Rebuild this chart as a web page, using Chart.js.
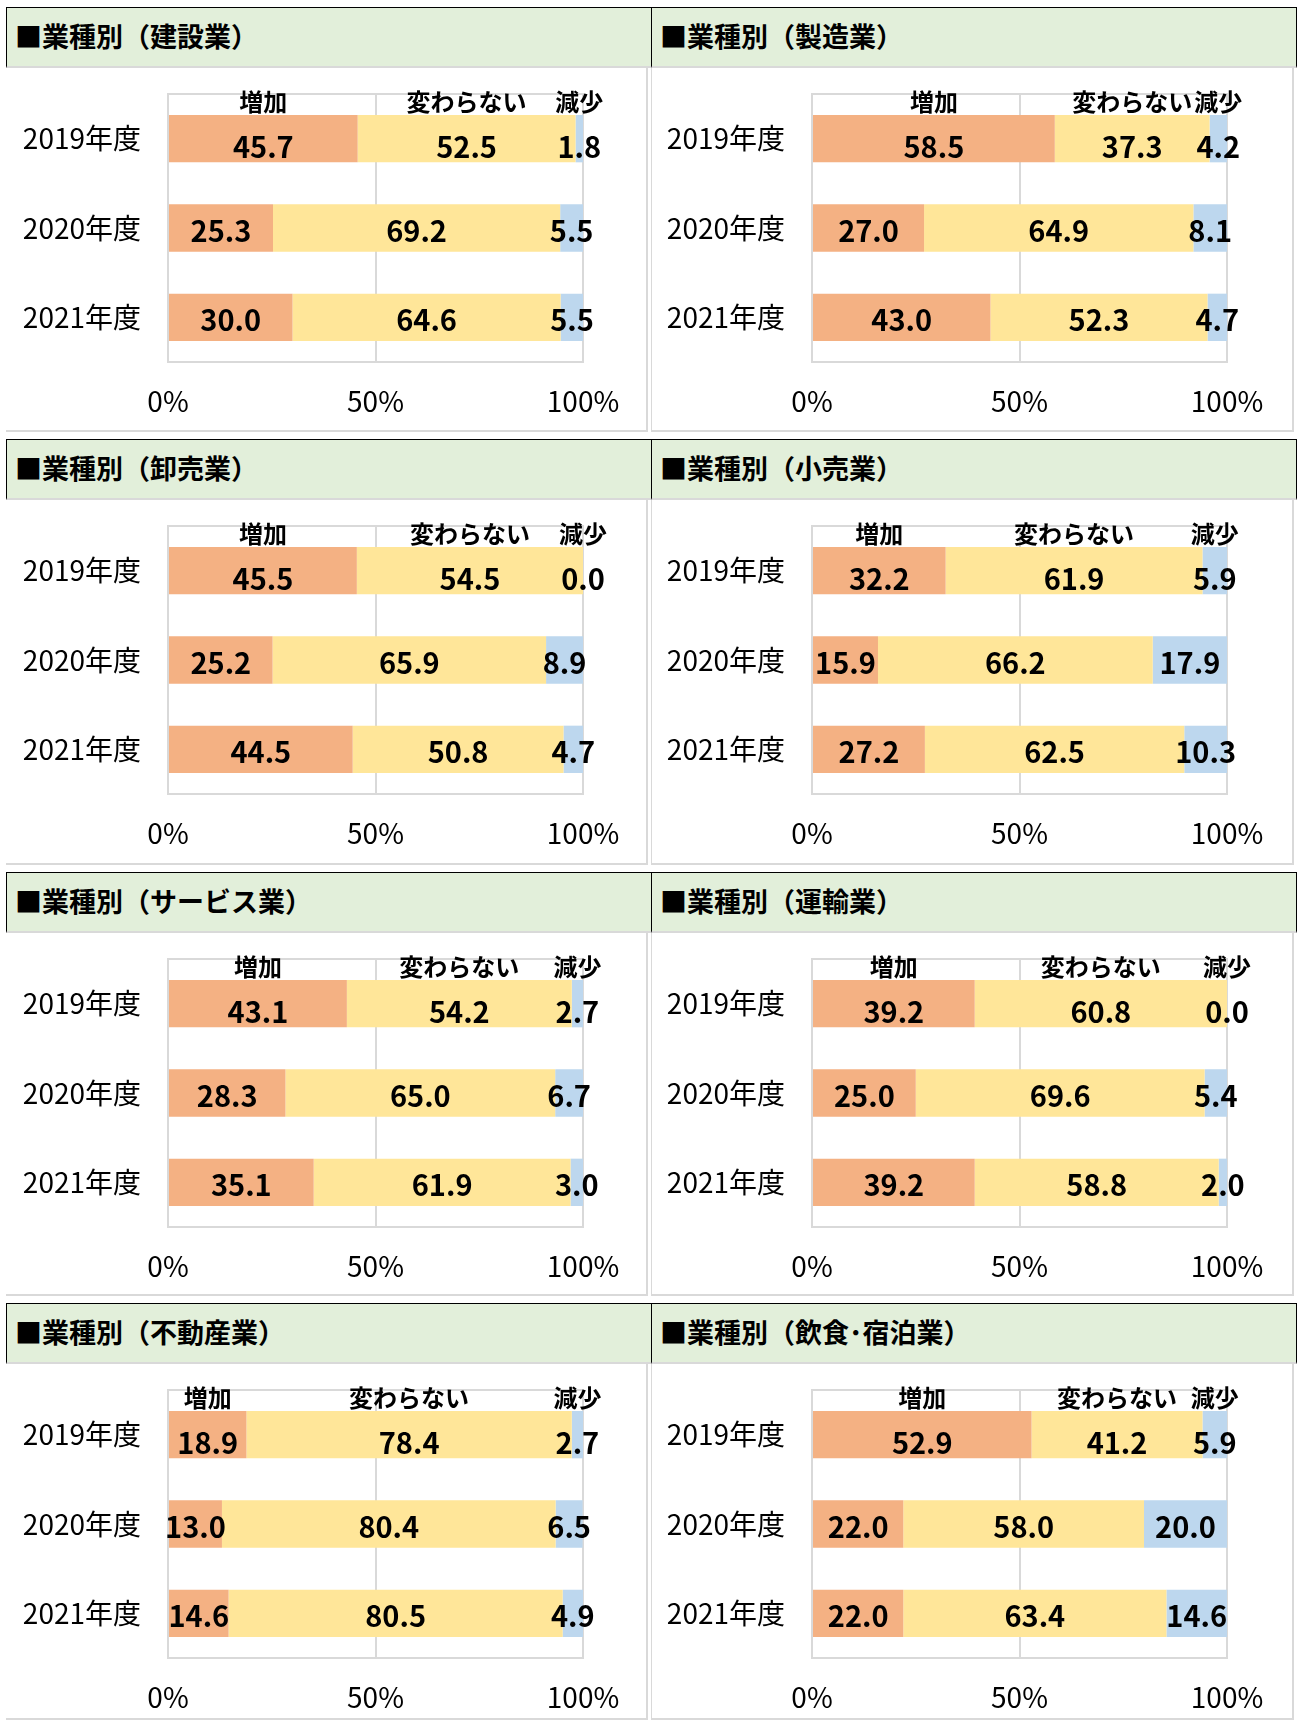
<!DOCTYPE html>
<html lang="ja">
<head>
<meta charset="utf-8">
<script src="https://cdn.jsdelivr.net/npm/chart.js@4.4.0/dist/chart.umd.min.js"></script>
<style>
  body { margin:0; width:1297px; height:1720px; overflow:hidden; background:#fff; position:relative;
         font-family:"Noto Sans CJK JP", sans-serif; }
  .head { position:absolute; height:61px; background:#E2EFDA; box-sizing:border-box;
          border-top:1px solid #000; border-left:1px solid #000; border-bottom:2px solid #D9D9D9;
          font-weight:bold; font-size:27px; color:#000; padding-left:8px; padding-bottom:3px;
          display:flex; align-items:center; }
  .head.right { border-right:1px solid #000; }
  .box { position:absolute; box-sizing:border-box; border-right:2px solid #D9D9D9; border-bottom:2px solid #D9D9D9; }
  .box.right { border-left:1px solid #D9D9D9; }
  canvas { position:absolute; }
</style>
</head>
<body>
<script>
// data
var years = ['2019年度', '2020年度', '2021年度'];
var seriesNames = ['増加', '変わらない', '減少'];
var industries = ['建設業', '製造業', '卸売業', '小売業', 'サービス業', '運輸業', '不動産業', '飲食･宿泊業'];
var increaseValues = [
  [45.7, 25.3, 30.0], [58.5, 27.0, 43.0], [45.5, 25.2, 44.5], [32.2, 15.9, 27.2],
  [43.1, 28.3, 35.1], [39.2, 25.0, 39.2], [18.9, 13.0, 14.6], [52.9, 22.0, 22.0]
];
var sameValues = [
  [52.5, 69.2, 64.6], [37.3, 64.9, 52.3], [54.5, 65.9, 50.8], [61.9, 66.2, 62.5],
  [54.2, 65.0, 61.9], [60.8, 69.6, 58.8], [78.4, 80.4, 80.5], [41.2, 58.0, 63.4]
];
var decreaseValues = [
  [1.8, 5.5, 5.5], [4.2, 8.1, 4.7], [0.0, 8.9, 4.7], [5.9, 17.9, 10.3],
  [2.7, 6.7, 3.0], [0.0, 5.4, 2.0], [2.7, 6.5, 4.9], [5.9, 20.0, 14.6]
];
var xTickValues = [0, 50, 100];
var colors = ['#F4B183', '#FFE699', '#BDD7EE'];

var rowTops = [7, 439, 872, 1303];
var FONT = '"Noto Sans CJK JP", sans-serif';

var plotBorder = {
  id: 'plotBorder',
  beforeDatasetsDraw: function(chart) {
    var a = chart.chartArea, ctx = chart.ctx;
    ctx.save();
    ctx.strokeStyle = '#D9D9D9';
    ctx.lineWidth = 2;
    ctx.strokeRect(a.left, a.top, a.right - a.left, a.bottom - a.top);
    ctx.restore();
  }
};

var barLabels = {
  id: 'barLabels',
  afterDatasetsDraw: function(chart) {
    var ctx = chart.ctx;
    ctx.save();
    ctx.fillStyle = '#000';
    ctx.textAlign = 'center';
    ctx.textBaseline = 'middle';
    chart.data.datasets.forEach(function(ds, i) {
      var meta = chart.getDatasetMeta(i);
      meta.data.forEach(function(el, j) {
        var cx = (el.x + el.base) / 2;
        ctx.font = 'bold 29px ' + FONT;
        ctx.fillText(ds.data[j].toFixed(1), cx, el.y + (j === 0 ? 8 : 3));
        if (j === 0) {
          ctx.font = 'bold 24px ' + FONT;
          ctx.fillText(ds.label, cx, el.y - el.height / 2 - 13);
        }
      });
    });
    ctx.restore();
  }
};

function makePanel(k) {
  var row = Math.floor(k / 2), col = k % 2;
  var top = rowTops[row];
  var bottom = row < 3 ? rowTops[row + 1] - 7 : 1720;

  var head = document.createElement('div');
  head.className = 'head' + (col ? ' right' : '');
  head.style.left = (col ? 651 : 6) + 'px';
  head.style.width = (col ? 646 : 645) + 'px';
  head.style.top = top + 'px';
  head.textContent = '■業種別（' + industries[k] + '）';
  document.body.appendChild(head);

  var box = document.createElement('div');
  box.className = 'box' + (col ? ' right' : '');
  box.style.left = (col ? 651 : 6) + 'px';
  box.style.width = (col ? 643 : 642) + 'px';
  box.style.top = (top + 61) + 'px';
  box.style.height = (bottom - top - 61) + 'px';
  document.body.appendChild(box);

  var cv = document.createElement('canvas');
  cv.width = 648; cv.height = 364;
  cv.style.left = (col ? 644 : 0) + 'px';
  cv.style.top = (top + 61) + 'px';
  document.body.appendChild(cv);

  var sets = [increaseValues[k], sameValues[k], decreaseValues[k]];
  new Chart(cv, {
    type: 'bar',
    data: {
      labels: years,
      datasets: sets.map(function(d, i) {
        return { label: seriesNames[i], data: d, backgroundColor: colors[i],
                 borderWidth: 0, barPercentage: 0.53, categoryPercentage: 1 };
      })
    },
    options: {
      indexAxis: 'y',
      responsive: false,
      animation: false,
      layout: { padding: { left: 0, top: 26, right: 65, bottom: 0 } },
      plugins: { legend: { display: false }, tooltip: { enabled: false } },
      scales: {
        x: {
          stacked: true, min: 0, max: 100,
          afterBuildTicks: function(s) { s.ticks = xTickValues.map(function(v) { return { value: v }; }); },
          afterFit: function(s) { s.height = 70; s.paddingLeft = 0; },
          ticks: { padding: 23, color: '#000', font: { size: 28, family: FONT },
                   callback: function(v) { return v + '%'; } },
          grid: { color: '#D9D9D9', lineWidth: 2, drawTicks: false },
          border: { display: false }
        },
        y: {
          stacked: true,
          afterFit: function(s) { s.width = 168; s.paddingTop = 0; s.paddingBottom = 0; },
          ticks: { padding: 27, color: '#000', font: { size: 28, family: FONT } },
          grid: { display: false, drawTicks: false },
          border: { display: false }
        }
      }
    },
    plugins: [plotBorder, barLabels]
  });
}

for (var k = 0; k < industries.length; k++) makePanel(k);
</script>
</body>
</html>
